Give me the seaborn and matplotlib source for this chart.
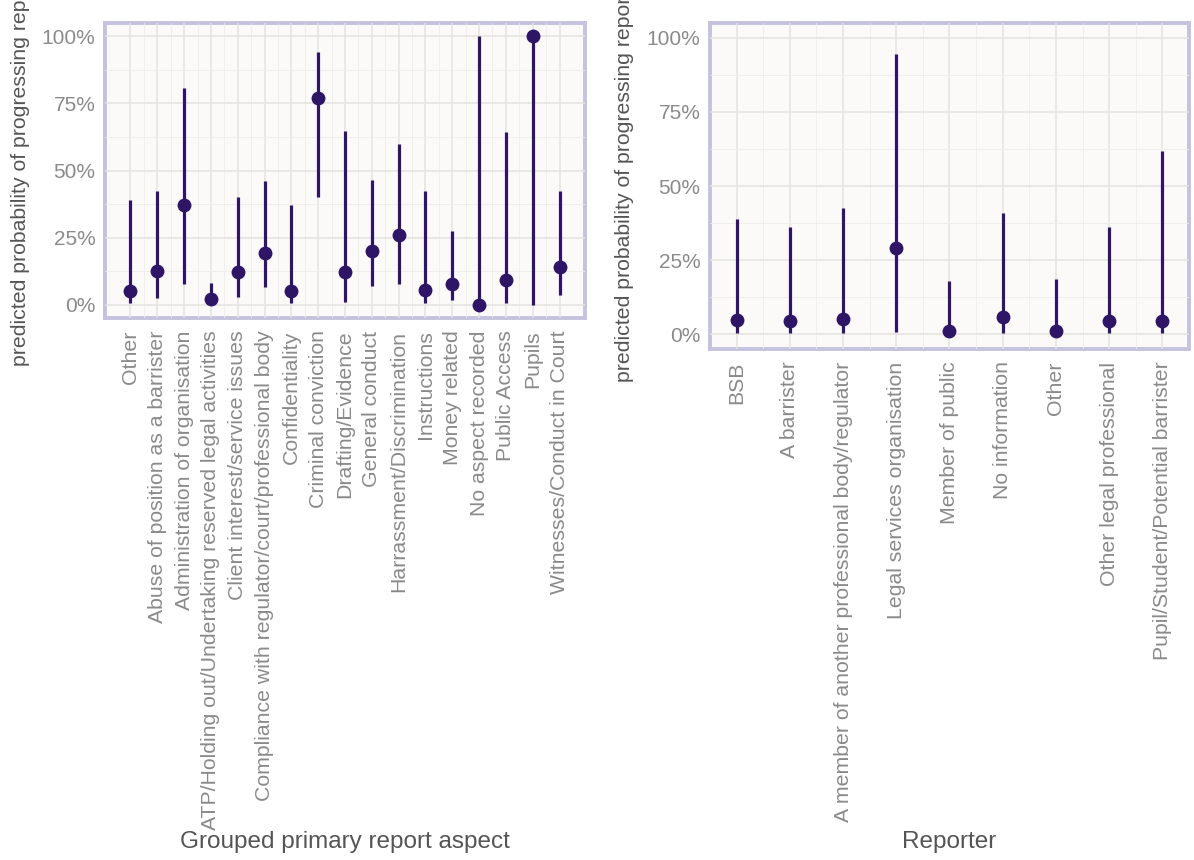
import numpy as np
import pandas as pd
import matplotlib
matplotlib.use("Agg")
import matplotlib.pyplot as plt
import matplotlib.transforms as mtransforms
from matplotlib.ticker import FuncFormatter, FixedLocator
import seaborn as sns

# Predicted probability (%) with lower / upper interval, by grouped report aspect
aspects = [
    "Other",
    "Abuse of position as a barrister",
    "Administration of organisation",
    "ATP/Holding out/Undertaking reserved legal activities",
    "Client interest/service issues",
    "Compliance with regulator/court/professional body",
    "Confidentiality",
    "Criminal conviction",
    "Drafting/Evidence",
    "General conduct",
    "Harrassment/Discrimination",
    "Instructions",
    "Money related",
    "No aspect recorded",
    "Public Access",
    "Pupils",
    "Witnesses/Conduct in Court",
]
aspect_est = [5.1, 12.4, 37.0, 2.0, 12.0, 19.2, 4.9, 77.0, 12.0, 20.0, 25.8, 5.5, 7.5, 0.0, 9.2, 100.0, 13.9]
aspect_lo = [0.6, 2.6, 7.7, 0.3, 2.8, 6.4, 0.6, 40.1, 1.0, 7.1, 7.7, 0.6, 1.8, 0.0, 0.6, 0.0, 3.4]
aspect_hi = [39.0, 42.5, 80.7, 8.2, 40.0, 45.9, 37.2, 94.1, 64.7, 46.5, 59.9, 42.2, 27.6, 100.0, 64.3, 100.0, 42.3]

# Same model output by reporter type
reporters = [
    "BSB",
    "A barrister",
    "A member of another professional body/regulator",
    "Legal services organisation",
    "Member of public",
    "No information",
    "Other",
    "Other legal professional",
    "Pupil/Student/Potential barrister",
]
rep_est = [4.7, 4.5, 5.0, 29.2, 1.1, 5.8, 1.1, 4.3, 4.3]
rep_lo = [0.5, 0.5, 0.5, 0.6, 0.1, 0.5, 0.1, 0.5, 0.3]
rep_hi = [38.8, 36.3, 42.5, 94.4, 18.0, 41.0, 18.5, 36.2, 61.8]

y_label = "predicted probability of progressing report"

POINT = "#2f1566"
BORDER = "#c4c2df"
PANEL = "#fbfaf8"
GRID_MAJOR = "#e4e3de"
GRID_MINOR = "#efeeea"
TICK_TXT = "#8a8a8a"
TITLE_TXT = "#555555"

sns.set_theme(style="white")
plt.rcParams["font.family"] = ["Liberation Sans", "DejaVu Sans"]

W, H = 1194, 860
fig = plt.figure(figsize=(W / 100, H / 100), dpi=100)
fig.patch.set_facecolor("white")


def px_axes(x0, y0, x1, y1):
    return fig.add_axes([x0 / W, 1 - y1 / H, (x1 - x0) / W, (y1 - y0) / H])


def draw_panel(ax, cats, est, lo, hi, pad, xtitle, ylabel_x_px):
    n = len(cats)
    df = pd.DataFrame({
        "cat": cats,
        "est": np.array(est) / 100,
        "lo": np.array(lo) / 100,
        "hi": np.array(hi) / 100,
    })
    ax.set_facecolor(PANEL)
    pos = np.arange(n)
    ax.vlines(pos, df["lo"], df["hi"], color=POINT, linewidth=2.3, zorder=3)
    sns.pointplot(data=df, x="cat", y="est", order=cats, color=POINT,
                  linestyle="none", errorbar=None, markersize=10,
                  markeredgewidth=0, ax=ax, zorder=4)

    ax.set_xlim(-pad, n - 1 + pad)
    ax.set_ylim(-0.05, 1.05)

    ax.xaxis.set_major_locator(FixedLocator(pos))
    ax.xaxis.set_minor_locator(FixedLocator(pos[:-1] + 0.5))
    ax.set_xticklabels(cats, rotation=90, ha="center", va="top")
    ax.yaxis.set_major_locator(FixedLocator([0, 0.25, 0.5, 0.75, 1.0]))
    ax.yaxis.set_minor_locator(FixedLocator([-0.125 + 0.25 * k for k in range(1, 5)] + [1.0 + 0.125 - 0.25]))
    ax.yaxis.set_minor_locator(FixedLocator([0.125, 0.375, 0.625, 0.875]))
    ax.yaxis.set_major_formatter(FuncFormatter(lambda v, _: f"{v * 100:.0f}%"))

    ax.set_axisbelow(True)
    ax.grid(True, which="major", color=GRID_MAJOR, linewidth=1.1)
    ax.grid(True, which="minor", color=GRID_MINOR, linewidth=0.6)

    ax.tick_params(axis="both", which="both", length=0)
    ax.tick_params(axis="x", which="major", pad=9, labelsize=15.3, labelcolor=TICK_TXT)
    ax.tick_params(axis="y", which="major", pad=7, labelsize=15, labelcolor=TICK_TXT)

    for sp in ax.spines.values():
        sp.set_visible(True)
        sp.set_color(BORDER)
        sp.set_linewidth(2.8)
        sp.set_zorder(0.3)

    ax.set_xlabel(xtitle, fontsize=17.5, color=TITLE_TXT, va="center")
    ax.xaxis.set_label_coords(
        0.5, 1 - 842 / H,
        transform=mtransforms.blended_transform_factory(ax.transAxes, fig.transFigure))
    ax.set_ylabel(y_label, fontsize=15.3, color=TITLE_TXT, va="center")
    ax.yaxis.set_label_coords(
        ylabel_x_px / W, 0.5,
        transform=mtransforms.blended_transform_factory(fig.transFigure, ax.transAxes))


ax1 = px_axes(105, 23, 585, 318)
draw_panel(ax1, aspects, aspect_est, aspect_lo, aspect_hi, 0.95,
           "Grouped primary report aspect", 21)

ax2 = px_axes(710, 23, 1189, 349)
draw_panel(ax2, reporters, rep_est, rep_lo, rep_hi, 0.5,
           "Reporter", 624)

fig.savefig("out.png", dpi=100, facecolor="white")
